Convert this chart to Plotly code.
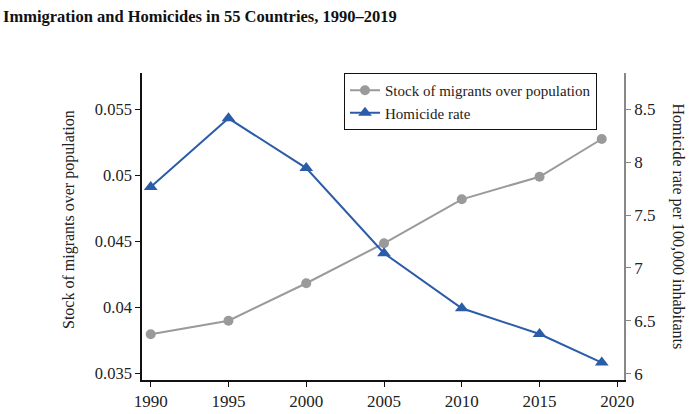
import plotly.graph_objects as go

years = [1990, 1995, 2000, 2005, 2010, 2015, 2019]
migrants = [0.03793, 0.03896, 0.04180, 0.04483, 0.04816, 0.04987, 0.05273]
homicide = [7.764, 8.412, 7.943, 7.139, 6.620, 6.377, 6.107]

left_ticks = [0.035, 0.04, 0.045, 0.05, 0.055]
left_labels = ["0.035", "0.04", "0.045", "0.05", "0.055"]
right_ticks = [6, 6.5, 7, 7.5, 8, 8.5]
right_labels = ["6", "6.5", "7", "7.5", "8", "8.5"]
x_ticks = [1990, 1995, 2000, 2005, 2010, 2015, 2020]

FONT = "Liberation Serif"
GRAY = "#9a9a9a"
BLUE = "#2A5CA8"

fig = go.Figure()
fig.add_trace(go.Scatter(
    x=years, y=migrants, mode="lines+markers", name="Stock of migrants over population",
    line=dict(color=GRAY, width=2), marker=dict(symbol="circle", size=10, color=GRAY),
    yaxis="y"))
fig.add_trace(go.Scatter(
    x=years, y=homicide, mode="lines+markers", name="Homicide rate",
    line=dict(color=BLUE, width=2), marker=dict(symbol="triangle-up", size=12, color=BLUE),
    yaxis="y2"))

L, R, T, B = 142, 73, 73, 34
PW = 697 - L - R

fig.update_layout(
    width=697, height=414,
    margin=dict(l=L, r=R, t=T, b=B, autoexpand=False),
    paper_bgcolor="white", plot_bgcolor="white",
    font=dict(family=FONT, size=17, color="#222"),
    title=dict(text="<b>Immigration and Homicides in 55 Countries, 1990–2019</b>",
               x=3/697, xref="container", xanchor="left", y=1 - 16/414, yref="container",
               yanchor="middle", font=dict(family=FONT, size=16.5, color="#111")),
    xaxis=dict(range=[1989.44, 2020.43], tickvals=x_ticks, showgrid=False, zeroline=False,
               showline=True, linecolor="#111", linewidth=1.5, ticks="outside", ticklen=5,
               tickcolor="#111", tickfont=dict(size=17)),
    yaxis=dict(range=[0.03447, 0.05773], tickvals=left_ticks, ticktext=left_labels,
               showgrid=False, zeroline=False, showline=True, linecolor="#111", linewidth=1.5,
               ticks="outside", ticklen=5, tickcolor="#111", tickfont=dict(size=16.5)),
    yaxis2=dict(range=[5.943, 8.84], tickvals=right_ticks, ticktext=right_labels,
                overlaying="y", side="right", showgrid=False, zeroline=False, showline=True,
                linecolor="#888", linewidth=1.5, ticks="outside", ticklen=5, tickcolor="#888",
                tickfont=dict(size=17)),
    legend=dict(x=(344 - L)/PW, y=1, xanchor="left", yanchor="top", bordercolor="#111",
                borderwidth=1, bgcolor="white", font=dict(size=15), tracegroupgap=0,
                itemwidth=30),
    showlegend=True,
    annotations=[
        dict(text="Homicide rate per 100,000 inhabitants", textangle=90,
             xref="paper", yref="paper", x=1 + (678 - 624)/PW, y=0.5,
             xanchor="center", yanchor="middle", showarrow=False,
             font=dict(family=FONT, size=16, color="#222")),
        dict(text="Stock of migrants over population", textangle=-90,
             xref="paper", yref="paper", x=(69 - L)/PW, y=0.5 - (220 - 226.5)/307,
             xanchor="center", yanchor="middle", showarrow=False,
             font=dict(family=FONT, size=16, color="#222")),
    ],
)

fig.write_html("out.html", post_script="document.body.style.margin='0';",
               config={"displayModeBar": False})
